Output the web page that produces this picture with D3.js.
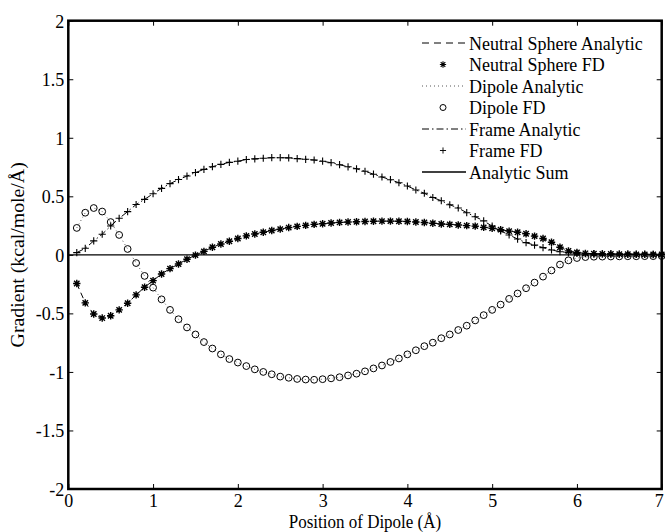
<!DOCTYPE html>
<html>
<head>
<meta charset="utf-8">
<script src="https://cdn.jsdelivr.net/npm/d3@7"></script>
<style>
  body { margin: 0; background: #fff; }
  text {
    font-family: "Liberation Serif", "Times New Roman", serif; fill: #000;
    transform-box: fill-box; transform-origin: center; transform: scaleY(1.1);
  }
</style>
</head>
<body>
<div id="chart"></div>
<script>
// positions of the dipole (Å), FD sample grid 0.1 .. 7.0
let positions = d3.range(1, 71).map(i => i / 10);

let neutralFD = [
  -0.245, -0.41, -0.505, -0.54, -0.52, -0.47, -0.413, -0.342, -0.277, -0.22,
  -0.163, -0.118, -0.078, -0.038, -0.002, 0.03, 0.065, 0.093, 0.116, 0.14,
  0.162, 0.178, 0.193, 0.208, 0.22, 0.233, 0.243, 0.252, 0.26, 0.266,
  0.272, 0.277, 0.28, 0.283, 0.285, 0.287, 0.288, 0.288, 0.287, 0.285,
  0.281, 0.276, 0.27, 0.264, 0.26, 0.255, 0.25, 0.245, 0.235, 0.227,
  0.215, 0.203, 0.193, 0.18, 0.16, 0.14, 0.108, 0.065, 0.034, 0.02,
  0.013, 0.01, 0.008, 0.007, 0.006, 0.005, 0.004, 0.004, 0.003, 0.003
];

let dipoleFD = [
  0.23, 0.36, 0.40, 0.37, 0.28, 0.17, 0.05, -0.07, -0.18, -0.28,
  -0.38, -0.47, -0.55, -0.62, -0.68, -0.745, -0.80, -0.85, -0.89, -0.92,
  -0.95, -0.978, -1.0, -1.02, -1.04, -1.05, -1.06, -1.065, -1.067, -1.062,
  -1.055, -1.045, -1.03, -1.015, -0.995, -0.97, -0.945, -0.915, -0.885, -0.85,
  -0.815, -0.78, -0.75, -0.712, -0.68, -0.642, -0.605, -0.56, -0.515, -0.47,
  -0.425, -0.376, -0.33, -0.285, -0.237, -0.186, -0.133, -0.083, -0.047, -0.027,
  -0.019, -0.016, -0.015, -0.014, -0.013, -0.012, -0.012, -0.011, -0.011, -0.01
];

let frameFD = [
  0.019, 0.056, 0.119, 0.176, 0.247, 0.312, 0.369, 0.43, 0.474, 0.522,
  0.568, 0.608, 0.643, 0.673, 0.703, 0.73, 0.753, 0.773, 0.79, 0.80,
  0.814, 0.82, 0.825, 0.83, 0.83, 0.828, 0.822, 0.816, 0.81, 0.80,
  0.787, 0.77, 0.752, 0.735, 0.714, 0.689, 0.665, 0.642, 0.616, 0.588,
  0.554, 0.526, 0.49, 0.462, 0.428, 0.40, 0.36, 0.326, 0.29, 0.245,
  0.205, 0.17, 0.135, 0.104, 0.083, 0.062, 0.042, 0.027, 0.019, 0.013,
  0.01, 0.009, 0.008, 0.008, 0.007, 0.007, 0.006, 0.006, 0.005, 0.005
];

// analytic sum of the three terms
let sumPositions = [0, 7];
let analyticSum = [0, 0];

let xTicks = [0, 1, 2, 3, 4, 5, 6, 7];
let yTicks = [-2, -1.5, -1, -0.5, 0, 0.5, 1, 1.5, 2];

let legendLabels = ["Neutral Sphere Analytic", "Neutral Sphere FD", "Dipole Analytic",
  "Dipole FD", "Frame Analytic", "Frame FD", "Analytic Sum"];

let margin = { top: 20.7, right: 3.3, bottom: 43, left: 68.3 };
let width = 665 - margin.left - margin.right;
let height = 532 - margin.top - margin.bottom;

let svg = d3.select("#chart").append("svg")
    .attr("width", 665)
    .attr("height", 532)
    .append("g")
    .attr("transform", `translate(${margin.left}, ${margin.top})`);

let x = d3.scaleLinear().domain([0, 7]).range([0, width]);
let y = d3.scaleLinear().domain([-2, 2]).range([height, 0]);

// markers
let starPath = "M-3.7,0H3.7M0,-3.7V3.7M-2.7,-2.7L2.7,2.7M-2.7,2.7L2.7,-2.7";
let plusPath = "M-3.6,0H3.6M0,-3.6V3.6";

// axes, ticks pointing inward
svg.append("g")
    .attr("class", "x-axis")
    .attr("transform", "translate(0," + height + ")")
    .call(d3.axisBottom(x).tickValues(xTicks).tickSize(-5).tickPadding(5).tickFormat(d => String(d)));

// keep the last label inside the window
svg.selectAll(".x-axis .tick text").filter(d => d === 7).attr("dx", -3);

svg.append("g")
    .attr("class", "y-axis")
    .call(d3.axisLeft(y).tickValues(yTicks).tickSize(-5).tickPadding(4).tickFormat(d => String(d)));

svg.append("g")
    .attr("transform", "translate(" + width + ",0)")
    .call(d3.axisRight(y).tickValues(yTicks).tickSize(-5).tickFormat(""));

svg.append("g")
    .call(d3.axisTop(x).tickValues(xTicks).tickSize(-5).tickFormat(""));

svg.selectAll(".domain").remove();
svg.selectAll(".tick line").attr("stroke", "#000").attr("stroke-width", 1);
svg.selectAll(".tick text").style("font-size", "18px");

let line = d3.line()
    .x(d => x(d[0]))
    .y(d => y(d[1]));

let zip = (xs, ys) => xs.map((v, i) => [v, ys[i]]);

// analytic curves
svg.append("path")
    .datum(zip(sumPositions, analyticSum))
    .attr("d", line)
    .attr("fill", "none")
    .attr("stroke", "#000")
    .attr("stroke-width", 1.3);

svg.append("path")
    .datum(zip(positions, neutralFD))
    .attr("d", line)
    .attr("fill", "none")
    .attr("stroke", "#000")
    .attr("stroke-width", 1)
    .attr("stroke-dasharray", "6,4");

svg.append("path")
    .datum(zip(positions, dipoleFD))
    .attr("d", line)
    .attr("fill", "none")
    .attr("stroke", "#444")
    .attr("stroke-width", 0.9)
    .attr("stroke-dasharray", "1,3");

svg.append("path")
    .datum(zip(positions, frameFD))
    .attr("d", line)
    .attr("fill", "none")
    .attr("stroke", "#000")
    .attr("stroke-width", 1)
    .attr("stroke-dasharray", "7,3,1.5,3");

// FD points
svg.selectAll(".dipole-pt")
    .data(zip(positions, dipoleFD))
    .enter().append("circle")
    .attr("class", "dipole-pt")
    .attr("cx", d => x(d[0]))
    .attr("cy", d => y(d[1]))
    .attr("r", 3.4)
    .attr("fill", "none")
    .attr("stroke", "#000")
    .attr("stroke-width", 1);

svg.selectAll(".frame-pt")
    .data(zip(positions, frameFD))
    .enter().append("path")
    .attr("class", "frame-pt")
    .attr("d", plusPath)
    .attr("transform", d => `translate(${x(d[0])},${y(d[1])})`)
    .attr("stroke", "#000")
    .attr("stroke-width", 1.1);

svg.selectAll(".neutral-pt")
    .data(zip(positions, neutralFD))
    .enter().append("path")
    .attr("class", "neutral-pt")
    .attr("d", starPath)
    .attr("transform", d => `translate(${x(d[0])},${y(d[1])})`)
    .attr("stroke", "#000")
    .attr("stroke-width", 1.4);

// frame box
svg.append("rect")
    .attr("width", width)
    .attr("height", height)
    .attr("fill", "none")
    .attr("stroke", "#000")
    .attr("stroke-width", 2.5);

// legend (no box)
let legend = svg.append("g")
    .attr("transform", `translate(${422 - margin.left}, ${43 - margin.top})`);

let styles = [
  { dash: "7,5", w: 1, c: "#000" },
  { marker: starPath, w: 1.3 },
  { dash: "1,3", w: 0.9, c: "#444" },
  { circle: true },
  { dash: "7,3,1.5,3", w: 1, c: "#000" },
  { marker: plusPath, w: 1.1 },
  { dash: null, w: 1.3, c: "#000" }
];

legendLabels.forEach((label, i) => {
  let row = legend.append("g").attr("transform", `translate(0, ${i * 21.5})`);
  let s = styles[i];
  if (s.circle) {
    row.append("circle").attr("cx", 21).attr("cy", 0).attr("r", 3)
        .attr("fill", "none").attr("stroke", "#000");
  } else if (s.marker) {
    row.append("path").attr("d", s.marker).attr("transform", "translate(21,0) scale(0.85)")
        .attr("stroke", "#000").attr("stroke-width", s.w);
  } else {
    row.append("line").attr("x1", 0).attr("x2", 44).attr("y1", 0).attr("y2", 0)
        .attr("stroke", s.c).attr("stroke-width", s.w)
        .attr("stroke-dasharray", s.dash);
  }
  row.append("text")
      .attr("x", 47)
      .attr("y", 6)
      .style("font-size", "18px")
      .text(label);
});

// axis labels
svg.append("text")
    .attr("text-anchor", "middle")
    .attr("x", width / 2)
    .attr("y", height + 38)
    .style("font-size", "17px")
    .text("Position of Dipole (Å)");

svg.append("g")
    .attr("transform", `translate(${-margin.left + 24}, ${height / 2}) rotate(-90)`)
    .append("text")
    .attr("text-anchor", "middle")
    .style("font-size", "18px")
    .style("transform", "scaleX(1.1)")
    .text("Gradient (kcal/mole/Å)");
</script>
</body>
</html>
